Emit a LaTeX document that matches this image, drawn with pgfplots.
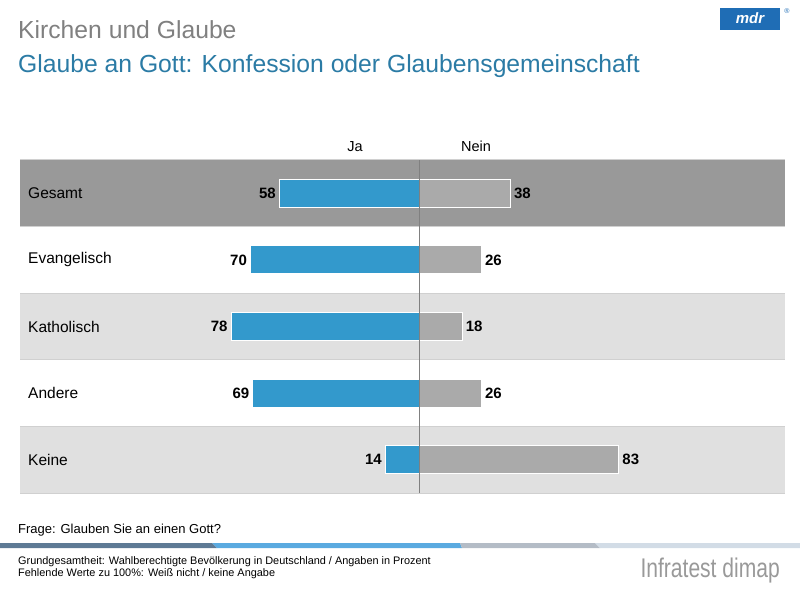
\documentclass[border=0pt]{standalone}
\usepackage{fontspec}
\setmainfont{Liberation Sans}
\usepackage{graphicx}
\usepackage{pgfplots}
\usepackage{pgfplotstable}
\pgfplotsset{compat=1.18}
\definecolor{jablue}{HTML}{3399CC}
\definecolor{neingray}{HTML}{AAAAAA}
\definecolor{gesamtbg}{HTML}{999999}
\definecolor{lightbg}{HTML}{E0E0E0}
\definecolor{sepline}{HTML}{D0D0D0}
\definecolor{titlegray}{HTML}{808080}
\definecolor{subblue}{HTML}{2B7BA5}
\definecolor{fdark}{HTML}{5E7A95}
\definecolor{fblue}{HTML}{5AAAE0}
\definecolor{fgray}{HTML}{B4BCC6}
\definecolor{flight}{HTML}{D2DCE6}
\definecolor{mdrblue}{HTML}{1F6DB5}
\pgfplotstableread{
pos ja nein
4 58 38
3 70 26
2 78 18
1 69 26
0 14 83
}\datatab
\begin{document}
\begin{tikzpicture}
\path[use as bounding box] (0pt,0pt) rectangle (800pt,600pt);
% row backgrounds
\fill[gesamtbg] (20pt,373.4pt) rectangle (785pt,440pt);
\fill[lightbg] (20pt,240.2pt) rectangle (785pt,306.8pt);
\fill[lightbg] (20pt,107pt) rectangle (785pt,173.6pt);
\foreach \yy in {440,373.4,306.8,240.2,173.6,107}{
  \draw[sepline,line width=1pt] (20pt,\yy pt) -- (785pt,\yy pt);
}
% titles
\node[anchor=base west,inner sep=0,text=titlegray,font=\fontsize{24.7}{28}\selectfont] at (18pt,561pt) {Kirchen und Glaube};
\node[anchor=base west,inner sep=0,text=subblue,font=\fontsize{24.7}{28}\selectfont] at (18pt,527pt) {Glaube an Gott: Konfession oder Glaubensgemeinschaft};
% logo
\fill[mdrblue] (720pt,570pt) rectangle (780pt,592pt);
\node[text=white,font=\bfseries\itshape\fontsize{15}{15}\selectfont,inner sep=0] at (750pt,582pt) {mdr};
\node[text=mdrblue,font=\fontsize{7}{7}\selectfont,inner sep=0] at (787pt,589pt) {®};
% column headers
\node[anchor=base,inner sep=0,font=\fontsize{14.5}{16}\selectfont] at (355pt,448pt) {Ja};
\node[anchor=base,inner sep=0,font=\fontsize{14.5}{16}\selectfont] at (476pt,448pt) {Nein};
\begin{axis}[
  at={(20pt,107pt)}, anchor=south west,
  width=765pt, height=333pt, scale only axis,
  xmin=-165.6, xmax=151.9, ymin=-0.5, ymax=4.5,
  axis line style={draw=none},
  xtick=\empty,
  ytick={0,1,2,3,4},
  yticklabels={Keine,Andere,Katholisch,Evangelisch,Gesamt},
  major tick length=0pt,
  yticklabel style={anchor=west,xshift=8pt,inner sep=0pt,font=\fontsize{15.5}{17}\selectfont},
  xbar, bar width=28pt, bar shift=0pt,
  clip=false,
  nodes near coords,
  point meta=explicit,
  /pgf/number format/assume math mode=true,
  nodes near coords style={font=\bfseries\fontsize{15}{17}\selectfont,inner sep=3pt},
]
\addplot[fill=jablue,draw=white,line width=1pt,
  every node near coord/.append style={anchor=east}]
  table[x expr=-\thisrow{ja}, y=pos, meta=ja] {\datatab};
\addplot[fill=neingray,draw=white,line width=1pt,
  every node near coord/.append style={anchor=west}]
  table[x=nein, y=pos, meta=nein] {\datatab};
\draw[gray,line width=0.8pt] (axis cs:0,-0.5) -- (axis cs:0,4.5);
\end{axis}
% footer
\node[anchor=base west,inner sep=0,font=\fontsize{13}{15}\selectfont] at (18pt,67pt) {Frage: Glauben Sie an einen Gott?};
\fill[fdark] (0pt,52pt) -- (217pt,52pt) -- (212pt,57pt) -- (0pt,57pt) -- cycle;
\fill[fblue] (217pt,52pt) -- (462pt,52pt) -- (460pt,57pt) -- (212pt,57pt) -- cycle;
\fill[fgray] (462pt,52pt) -- (600pt,52pt) -- (595pt,57pt) -- (460pt,57pt) -- cycle;
\fill[flight] (600pt,52pt) -- (800pt,52pt) -- (800pt,57pt) -- (595pt,57pt) -- cycle;
\node[anchor=base west,inner sep=0,font=\fontsize{10.9}{12}\selectfont] at (18pt,36pt) {Grundgesamtheit: Wahlberechtigte Bevölkerung in Deutschland / Angaben in Prozent};
\node[anchor=base west,inner sep=0,font=\fontsize{10.9}{12}\selectfont] at (18pt,23.5pt) {Fehlende Werte zu 100\%: Weiß nicht / keine Angabe};
\node[anchor=base east,inner sep=0,text=gray!80,font=\fontsize{27}{30}\selectfont] at (780pt,23pt) {\scalebox{0.78}[1]{Infratest dimap}};
\end{tikzpicture}
\end{document}
